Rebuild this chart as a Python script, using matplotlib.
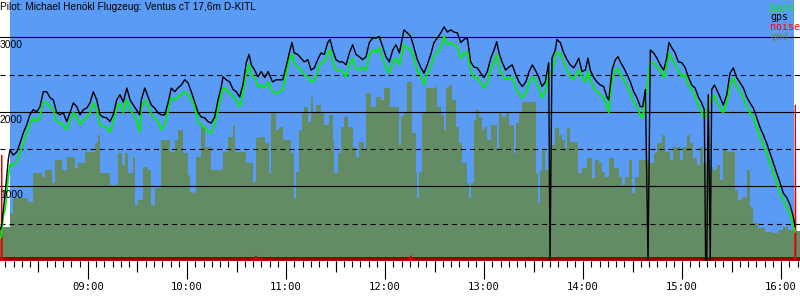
import numpy as np
import matplotlib.pyplot as plt
from matplotlib.ticker import FixedLocator, FuncFormatter, NullLocator

plt.rcParams['lines.scale_dashes'] = False

# fixes: minutes after 08:00, altitudes in m
fix_min = [7.0, 7.7, 8.7, 9.7, 10.7, 11.7, 12.7, 14.7, 16.8, 18.8,
           20.8, 22.9, 24.8, 26.8, 28.9, 30.9, 32.9, 35.0, 37.0, 39.0,
           41.0, 43.0, 45.0, 47.1, 49.1, 51.1, 53.2, 55.2, 57.2, 59.2,
           61.2, 63.2, 65.3, 67.3, 69.3, 71.3, 73.3, 75.3, 77.4, 79.4,
           81.4, 83.5, 85.5, 87.5, 89.3, 91.3, 92.3, 94.4, 96.4, 98.4,
           100.4, 102.4, 104.4, 106.5, 108.5, 110.5, 112.5, 114.5, 116.5, 118.6,
           120.6, 122.6, 124.7, 126.7, 128.7, 130.7, 132.7, 134.7, 136.8, 138.8,
           140.8, 141.8, 143.8, 145.9, 147.9, 149.9, 151.9, 153.9, 155.9, 157.6,
           159.0, 161.0, 163.0, 165.0, 167.1, 169.1, 171.9, 173.9, 175.9, 178.0,
           180.0, 182.0, 183.6, 185.0, 187.1, 189.1, 191.1, 193.2, 195.2, 197.2,
           199.2, 201.2, 203.2, 205.3, 206.7, 208.3, 210.3, 212.3, 214.4, 216.4,
           218.4, 220.4, 222.4, 224.4, 226.5, 228.5, 230.5, 232.5, 234.5, 236.5,
           238.6, 240.6, 242.6, 244.7, 246.7, 248.7, 251.5, 253.5, 255.6, 257.6,
           259.6, 261.6, 263.6, 265.6, 267.7, 269.7, 271.7, 273.8, 275.8, 277.8,
           279.8, 281.8, 283.8, 285.9, 287.9, 289.9, 291.9, 293.9, 295.9, 298.0,
           300.0, 302.0, 304.1, 306.1, 307.7, 309.1, 311.1, 313.1, 315.1, 317.1,
           319.2, 321.2, 323.2, 325.3, 327.3, 329.3, 331.1, 333.1, 335.1, 337.1,
           339.2, 340.0, 341.2, 343.2, 344.2, 346.2, 348.3, 350.3, 352.3, 354.4,
           356.4, 357.4, 359.4, 361.4, 363.0, 364.4, 366.5, 368.5, 370.5, 372.5,
           374.5, 375.6, 377.6, 379.6, 381.2, 382.6, 384.7, 386.7, 388.7, 390.7,
           392.7, 394.7, 396.2, 397.8, 399.4, 400.8, 402.8, 404.8, 406.8, 408.9,
           410.7, 412.1, 413.8, 415.8, 417.8, 419.8, 421.8, 423.8, 425.9, 427.9,
           429.9, 431.9, 433.5, 434.3, 435.0, 435.9, 437.1, 438.0, 439.6, 441.0,
           443.0, 445.0, 447.1, 449.1, 451.1, 453.1, 455.2, 457.2, 459.2, 461.2,
           463.2, 465.3, 467.3, 469.3, 471.3, 473.3, 475.3, 477.4, 479.4, 481.4,
           483.5, 485.5, 487.5, 488.5]

gps_alt = [430, 480, 680, 890, 1130, 1360, 1490, 1420, 1460, 1580,
           1720, 1830, 1960, 2030, 2000, 2070, 2270, 2270, 2190, 2160,
           1990, 1960, 1990, 1870, 1990, 2120, 2070, 1960, 2030, 2050,
           2120, 2270, 2160, 1960, 1930, 1920, 1870, 1960, 2160, 2230,
           2130, 2320, 2160, 2090, 2030, 1960, 2160, 2320, 2200, 2090,
           2050, 1990, 1960, 1960, 2120, 2320, 2270, 2320, 2360, 2430,
           2390, 2270, 2130, 1990, 1930, 1920, 1870, 1850, 1930, 2160,
           2340, 2470, 2430, 2400, 2300, 2270, 2200, 2360, 2660, 2770,
           2630, 2560, 2470, 2540, 2460, 2540, 2400, 2430, 2430, 2430,
           2600, 2790, 2930, 2790, 2770, 2720, 2670, 2700, 2560, 2590,
           2700, 2790, 2770, 2930, 2970, 2830, 2700, 2670, 2670, 2630,
           2790, 2900, 2770, 2740, 2700, 2740, 2930, 2990, 2990, 3010,
           2870, 2740, 2670, 2830, 2900, 2790, 3100, 3060, 3010, 2860,
           2700, 2600, 2520, 2630, 2770, 2930, 2990, 3060, 3140, 3070,
           3100, 3070, 3060, 2930, 2970, 2990, 2670, 2600, 2590, 2520,
           2460, 2540, 2720, 2830, 2940, 2790, 2660, 2560, 2600, 2630,
           2500, 2400, 2340, 2400, 2540, 2630, 2560, 2470, 2340, 2400,
           2660, 0, 2720, 2830, 2970, 2930, 2790, 2700, 2630, 2590,
           2670, 2720, 2540, 2560, 2720, 2560, 2460, 2400, 2360, 2340,
           2200, 2160, 2560, 2700, 2740, 2670, 2590, 2500, 2400, 2270,
           2190, 2070, 2070, 2300, 0, 2830, 2790, 2720, 2630, 2560,
           2720, 2930, 2860, 2790, 2670, 2660, 2600, 2470, 2360, 2320,
           2200, 2120, 2030, 0, 0, 2230, 0, 2300, 2360, 2300,
           2200, 2090, 2230, 2520, 2590, 2460, 2390, 2320, 2200, 2120,
           2050, 1920, 1790, 1690, 1580, 1450, 1320, 1180, 1050, 910,
           850, 750, 590, 460]

baro_alt = [310, 350, 620, 680, 890, 1130, 1290, 1290, 1330, 1450,
            1580, 1720, 1830, 1920, 1870, 1930, 2120, 2130, 2070, 2030,
            1870, 1850, 1830, 1760, 1870, 1990, 1930, 1830, 1890, 1920,
            1990, 2120, 2030, 1830, 1800, 1790, 1730, 1870, 2050, 2120,
            1990, 2160, 2030, 1960, 1890, 1730, 2030, 2160, 2090, 1960,
            1920, 1870, 1760, 1830, 2000, 2190, 2160, 2200, 2230, 2270,
            2230, 2160, 2070, 1870, 1830, 1790, 1730, 1720, 1830, 2030,
            2230, 2320, 2300, 2250, 2200, 2160, 2070, 2230, 2520, 2630,
            2500, 2460, 2340, 2360, 2320, 2400, 2270, 2250, 2270, 2300,
            2500, 2700, 2770, 2660, 2600, 2560, 2500, 2470, 2400, 2430,
            2540, 2660, 2670, 2790, 2830, 2670, 2560, 2560, 2540, 2470,
            2630, 2720, 2590, 2560, 2600, 2560, 2770, 2830, 2800, 2860,
            2720, 2590, 2520, 2670, 2720, 2630, 2900, 2860, 2830, 2720,
            2540, 2500, 2360, 2520, 2600, 2740, 2800, 2870, 3010, 2900,
            2930, 2900, 2870, 2720, 2790, 2800, 2560, 2460, 2460, 2390,
            2320, 2390, 2560, 2670, 2770, 2600, 2500, 2430, 2460, 2460,
            2320, 2250, 2190, 2250, 2390, 2470, 2430, 2320, 2190, 2270,
            2500, 2510, 2540, 2720, 2800, 2790, 2660, 2560, 2470, 2430,
            2540, 2560, 2470, 2400, 2540, 2430, 2320, 2270, 2230, 2190,
            2070, 1990, 2430, 2560, 2590, 2500, 2430, 2340, 2250, 2130,
            2070, 1960, 1920, 2200, 2430, 2670, 2660, 2600, 2560, 2460,
            2600, 2790, 2720, 2630, 2560, 2470, 2500, 2360, 2300, 2200,
            2090, 1990, 1920, 1930, 1990, 2120, 2160, 2190, 2230, 2130,
            2070, 1990, 2120, 2360, 2460, 2340, 2270, 2190, 2070, 1990,
            1920, 1790, 1660, 1560, 1450, 1320, 1180, 1050, 910, 820,
            720, 640, 460, 390]

# terrain under the track (step profile)
gnd_min = [6.7, 12.7, 14.5, 23.6, 26.7, 32.1, 34.0, 38.2, 40.0, 44.2,
           47.3, 52.1, 54.0, 58.2, 64.2, 66.1, 67.3, 73.3, 78.2, 80.6,
           82.4, 84.3, 87.3, 88.5, 90.3, 93.3, 96.4, 98.2, 100.6, 104.2,
           109.7, 112.7, 114.5, 117.6, 120.6, 121.8, 123.6, 125.4, 128.5, 130.9,
           134.5, 141.8, 144.8, 147.9, 149.1, 155.8, 160.0, 161.8, 164.2, 167.3,
           169.7, 170.9, 174.0, 175.8, 178.2, 183.0, 184.8, 186.1, 187.9, 189.7,
           190.9, 193.3, 195.1, 196.4, 198.2, 201.2, 203.0, 206.1, 208.5, 209.1,
           211.5, 213.3, 215.2, 217.6, 220.6, 222.4, 224.2, 227.3, 228.5, 231.5,
           234.5, 237.6, 239.4, 243.0, 248.5, 249.7, 251.5, 253.3, 256.4, 258.8,
           259.4, 260.6, 262.4, 264.8, 270.9, 271.5, 273.9, 275.8, 277.0, 278.8,
           280.6, 283.0, 284.9, 286.7, 289.7, 290.9, 292.1, 293.9, 295.1, 297.0,
           298.8, 300.0, 301.8, 304.2, 307.9, 309.1, 310.9, 313.3, 315.1, 318.2,
           319.4, 321.2, 323.0, 331.5, 332.7, 333.9, 335.1, 337.0, 339.4, 340.0,
           341.2, 343.0, 345.5, 347.3, 349.1, 350.3, 352.1, 357.0, 359.4, 362.4,
           365.4, 367.3, 369.7, 371.5, 373.3, 375.7, 378.8, 381.8, 383.6, 385.5,
           387.9, 389.7, 391.5, 394.0, 400.6, 403.0, 404.8, 407.9, 409.7, 412.7,
           414.5, 418.8, 420.6, 423.0, 424.8, 426.7, 429.1, 430.9, 432.7, 435.1,
           436.9, 438.8, 441.2, 443.0, 444.8, 447.3, 452.1, 453.9, 456.3, 459.4,
           461.2, 463.0, 466.0, 470.3, 474.5, 478.2, 481.2, 484.2, 488.5, 491.5]

gnd_alt = [460, 640, 850, 790, 1180, 1130, 1220, 1050, 1360, 1220,
           1400, 1250, 1320, 1460, 1580, 1690, 1180, 1020, 1450, 1290,
           1450, 1180, 1400, 750, 820, 1260, 1220, 750, 980, 1620,
           1460, 1620, 1760, 1450, 1150, 930, 910, 1400, 1800, 1530,
           1220, 1460, 1660, 1830, 1460, 1320, 1060, 1650, 1660, 1580,
           1180, 1990, 1760, 1800, 1620, 1450, 850, 1190, 1760, 2000,
           2070, 1870, 2200, 2000, 2090, 2000, 1830, 1960, 1620, 1180,
           1450, 1800, 1930, 1800, 1530, 1400, 1600, 1490, 2250, 2070,
           2200, 2160, 2320, 2070, 1560, 1950, 1990, 2400, 1720, 1180,
           850, 1190, 1990, 2320, 2360, 2070, 1960, 1760, 2320, 2360,
           2160, 1800, 1580, 1320, 1050, 850, 1050, 1890, 2030, 1930,
           1760, 1800, 1620, 1830, 1490, 1990, 1930, 2000, 1830, 1450,
           1850, 1990, 2130, 1180, 780, 1220, 1520, 1220, 1320, 1520,
           1560, 1780, 1690, 1620, 1520, 1780, 1600, 1180, 1250, 1380,
           1110, 1360, 1320, 1190, 1130, 1380, 1250, 1130, 1020, 1130,
           1360, 910, 1130, 1360, 1320, 1450, 1580, 1690, 1460, 1360,
           1530, 1360, 1530, 1690, 1580, 1380, 1290, 1530, 1320, 1180,
           1260, 1220, 1290, 1090, 1490, 1460, 950, 820, 860, 1220,
           720, 510, 440, 390, 380, 420, 460, 420, 400, 400]

# engine noise
noise_min = [7.4, 7.7, 8.0, 161.5, 161.8, 162.1, 255.5, 255.8, 256.1, 488.4, 488.7, 489.0]
noise_val = [0, 1420, 0, 0, 70, 0, 0, 70, 0, 0, 2090, 0]

title = "Pilot: Michael Henökl Flugzeug: Ventus cT 17,6m D-KITL"
series_names = ["baro", "gps", "noise", "gnd"]

BLUE = "#5a9bf5"
GND = "#648c64"
BAR = "#9a0000"
BARO = "#00f000"
series_colors = [BARO, "black", "#ff0000", "#6b8a66"]


def hours(m):
    return 8 + np.asarray(m, dtype=float) / 60.0


fig = plt.figure(figsize=(8, 3), dpi=100)
ax = fig.add_axes([0, 0.13, 1, 0.87])
ax.set_xlim(hours(6.67), hours(491.5))
ax.set_ylim(0, 3500)
for s in ax.spines.values():
    s.set_visible(False)
ax.set_yticks([])

ax.axvspan(hours(12.7), hours(487.9), color=BLUE, lw=0, zorder=0)
ax.fill_between(hours(gnd_min), 0, gnd_alt, step='post', color=GND, lw=0, zorder=1)

for v in (1000, 2000, 3000):
    ax.axhline(v, color='black', lw=0.8, zorder=2)
    ax.annotate(str(v), xy=(0, v), xycoords=('axes fraction', 'data'),
                xytext=(0, -2.3), textcoords='offset points', ha='left', va='top',
                fontsize=7.4, family='Liberation Sans', zorder=6)
for v in (500, 1500, 2500):
    ax.axhline(v, color='black', lw=0.8, ls=(0, (3.6, 2.9)), zorder=2)

ax.axhspan(0, 58, color=BAR, lw=0, zorder=3)
ax.plot(hours(noise_min), noise_val, color='#e00000', lw=0.8, zorder=3.5)
ax.plot(hours(fix_min), baro_alt, color=BARO, lw=1.3, zorder=4)
ax.plot(hours(fix_min), gps_alt, color='black', lw=1.0, zorder=5)

# time axis
hour_ticks = np.arange(9, 17)
half_ticks = np.arange(8.5, 16, 1.0)
five_ticks = np.arange(8 + 10 / 60, 16.2, 5 / 60)
ax.xaxis.set_major_locator(FixedLocator(hour_ticks))
ax.xaxis.set_minor_locator(FixedLocator(five_ticks))
ax.xaxis.set_major_formatter(FuncFormatter(lambda x, p: "%02d:00" % round(x)))
ax.tick_params(axis='x', which='major', length=12.6, width=0.8, pad=2.5, labelsize=7.6)
ax.tick_params(axis='x', which='minor', length=4.3, width=0.8)
for lab in ax.get_xticklabels():
    lab.set_family('DejaVu Sans Mono')

sec = ax.secondary_xaxis('bottom')
sec.set_xticks(half_ticks)
sec.xaxis.set_minor_locator(NullLocator())
sec.tick_params(axis='x', length=8.0, width=0.8, labelbottom=False)
sec.spines['bottom'].set_visible(False)

fig.text(0.0, 1 - 10 / 300, title, fontsize=7.3, family='Liberation Sans', va='baseline')
for i, (name, col) in enumerate(zip(series_names, series_colors)):
    fig.text(770 / 800, 1 - (10.7 + 9.7 * i) / 300, name, color=col, fontsize=7.2,
             family='DejaVu Sans Mono', va='baseline')

fig.savefig("out.png", dpi=100)
